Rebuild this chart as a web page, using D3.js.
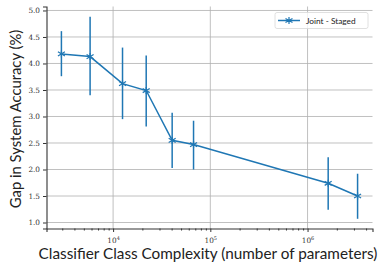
<!DOCTYPE html>
<meta charset="utf-8">
<style>
    body { margin: 0; background: #fff; }
    .tick text { font-family: "DejaVu Serif", serif; font-size: 7.3px; fill: #333; }
    .lbl { font-family: Lato, "Open Sans", sans-serif; fill: #222; }
</style>
<body>
<script src="https://cdn.jsdelivr.net/npm/d3@7"></script>
<script>

    var width = 385,
        height = 272;

    var margin = {left: 46.5, right: 12.5, top: 6.5, bottom: 43.5};

    // number of parameters, accuracy gap and error bar ends
    var params = [2940, 5800, 12500, 21900, 40500, 67200, 1630000, 3270000];
    var gap    = [4.18, 4.13, 3.62, 3.49, 2.55, 2.47, 1.74, 1.50];
    var errHi  = [4.61, 4.88, 4.30, 4.15, 3.07, 2.92, 2.23, 1.92];
    var errLo  = [3.76, 3.40, 2.95, 2.81, 2.03, 2.00, 1.24, 1.07];
    var yTicks = [1.0, 1.5, 2.0, 2.5, 3.0, 3.5, 4.0, 4.5, 5.0];
    var xTicks = [1e4, 1e5, 1e6];
    var seriesName = "Joint - Staged";

    var color = "#1f77b4";

    var x = d3.scaleLog()
        .domain([Math.pow(10, 3.315), Math.pow(10, 6.668)])
        .range([margin.left, width - margin.right]);

    var y = d3.scaleLinear()
        .domain([0.887, 5.075])
        .range([height - margin.bottom, margin.top]);

    var svg = d3.select("body").append("svg")
        .attr("width", width)
        .attr("height", height);

    // grid
    svg.append("g").selectAll("line")
        .data(yTicks)
        .enter().append("line")
        .attr("x1", margin.left).attr("x2", width - margin.right)
        .attr("y1", function(d) { return y(d); })
        .attr("y2", function(d) { return y(d); })
        .style("stroke", "#b0b0b0").style("stroke-width", 0.8);

    svg.append("g").selectAll("line")
        .data(xTicks)
        .enter().append("line")
        .attr("x1", function(d) { return x(d); })
        .attr("x2", function(d) { return x(d); })
        .attr("y1", margin.top).attr("y2", height - margin.bottom)
        .style("stroke", "#b0b0b0").style("stroke-width", 0.8);

    // axes
    var xAxis = svg.append("g")
        .attr("transform", "translate(0," + (height - margin.bottom) + ")")
        .call(d3.axisBottom(x).tickValues(xTicks).tickSize(3.5).tickFormat(function() { return ""; }));

    var minor = [];
    [1e3, 1e4, 1e5, 1e6].forEach(function(dec) {
        for (var k = 2; k < 10; k++) {
            var v = dec * k;
            if (v > x.domain()[0] && v < x.domain()[1]) minor.push(v);
        }
    });
    svg.append("g")
        .attr("transform", "translate(0," + (height - margin.bottom) + ")")
        .call(d3.axisBottom(x).tickValues(minor).tickSize(2).tickFormat(function() { return ""; }))
        .select(".domain").remove();

    xAxis.selectAll(".tick").append("text")
        .attr("y", 14)
        .attr("text-anchor", "middle")
        .style("fill", "#333")
        .html(function(d) {
            return "10<tspan dy='-3' font-size='5'>" + Math.round(Math.log10(d)) + "</tspan>";
        });

    var yAxis = svg.append("g")
        .attr("transform", "translate(" + margin.left + ",0)")
        .call(d3.axisLeft(y).tickValues(yTicks).tickSize(3.5).tickPadding(3)
            .tickFormat(d3.format(".1f")));

    svg.selectAll(".domain").style("stroke", "#333").style("stroke-width", 1.1);
    svg.selectAll(".tick line").style("stroke", "#333");

    // error bars
    svg.append("g").selectAll("line")
        .data(params)
        .enter().append("line")
        .attr("x1", function(d) { return x(d); })
        .attr("x2", function(d) { return x(d); })
        .attr("y1", function(d, i) { return y(errHi[i]); })
        .attr("y2", function(d, i) { return y(errLo[i]); })
        .style("stroke", color).style("stroke-width", 1.5);

    var line = d3.line()
        .x(function(d) { return x(d); })
        .y(function(d, i) { return y(gap[i]); });

    svg.append("path")
        .datum(params)
        .attr("d", line)
        .style("fill", "none")
        .style("stroke", color)
        .style("stroke-width", 1.5);

    function star(g, cx, cy, r) {
        g.append("path")
            .attr("d", "M" + (cx - r) + "," + (cy - r * 0.6) + "L" + (cx + r) + "," + (cy + r * 0.6) +
                "M" + (cx - r) + "," + (cy + r * 0.6) + "L" + (cx + r) + "," + (cy - r * 0.6) +
                "M" + cx + "," + (cy - r) + "L" + cx + "," + (cy + r))
            .style("stroke", color).style("stroke-width", 1.2).style("fill", "none");
    }

    var markers = svg.append("g");
    params.forEach(function(d, i) { star(markers, x(d), y(gap[i]), 3.5); });

    // legend
    var leg = svg.append("g");
    leg.append("rect")
        .attr("x", 275).attr("y", 12.5)
        .attr("width", 93).attr("height", 16)
        .attr("rx", 2)
        .style("fill", "#fff").style("fill-opacity", 0.8)
        .style("stroke", "#d8d8d8").style("stroke-width", 0.8);
    leg.append("line")
        .attr("x1", 278).attr("x2", 300)
        .attr("y1", 20.5).attr("y2", 20.5)
        .style("stroke", color).style("stroke-width", 1.5);
    star(leg, 289, 20.5, 3.5);
    leg.append("text")
        .attr("class", "lbl")
        .attr("x", 306).attr("y", 23.5)
        .style("font-size", "8.3px")
        .text(seriesName);

    // axis labels
    svg.append("text")
        .attr("class", "lbl")
        .attr("x", 208)
        .attr("y", 258.5)
        .attr("text-anchor", "middle")
        .style("font-size", "15.3px")
        .text("Classifier Class Complexity (number of parameters)");

    svg.append("text")
        .attr("class", "lbl")
        .attr("transform", "translate(21,119) rotate(-90)")
        .attr("text-anchor", "middle")
        .style("font-size", "14.8px")
        .text("Gap in System Accuracy (%)");

</script>
